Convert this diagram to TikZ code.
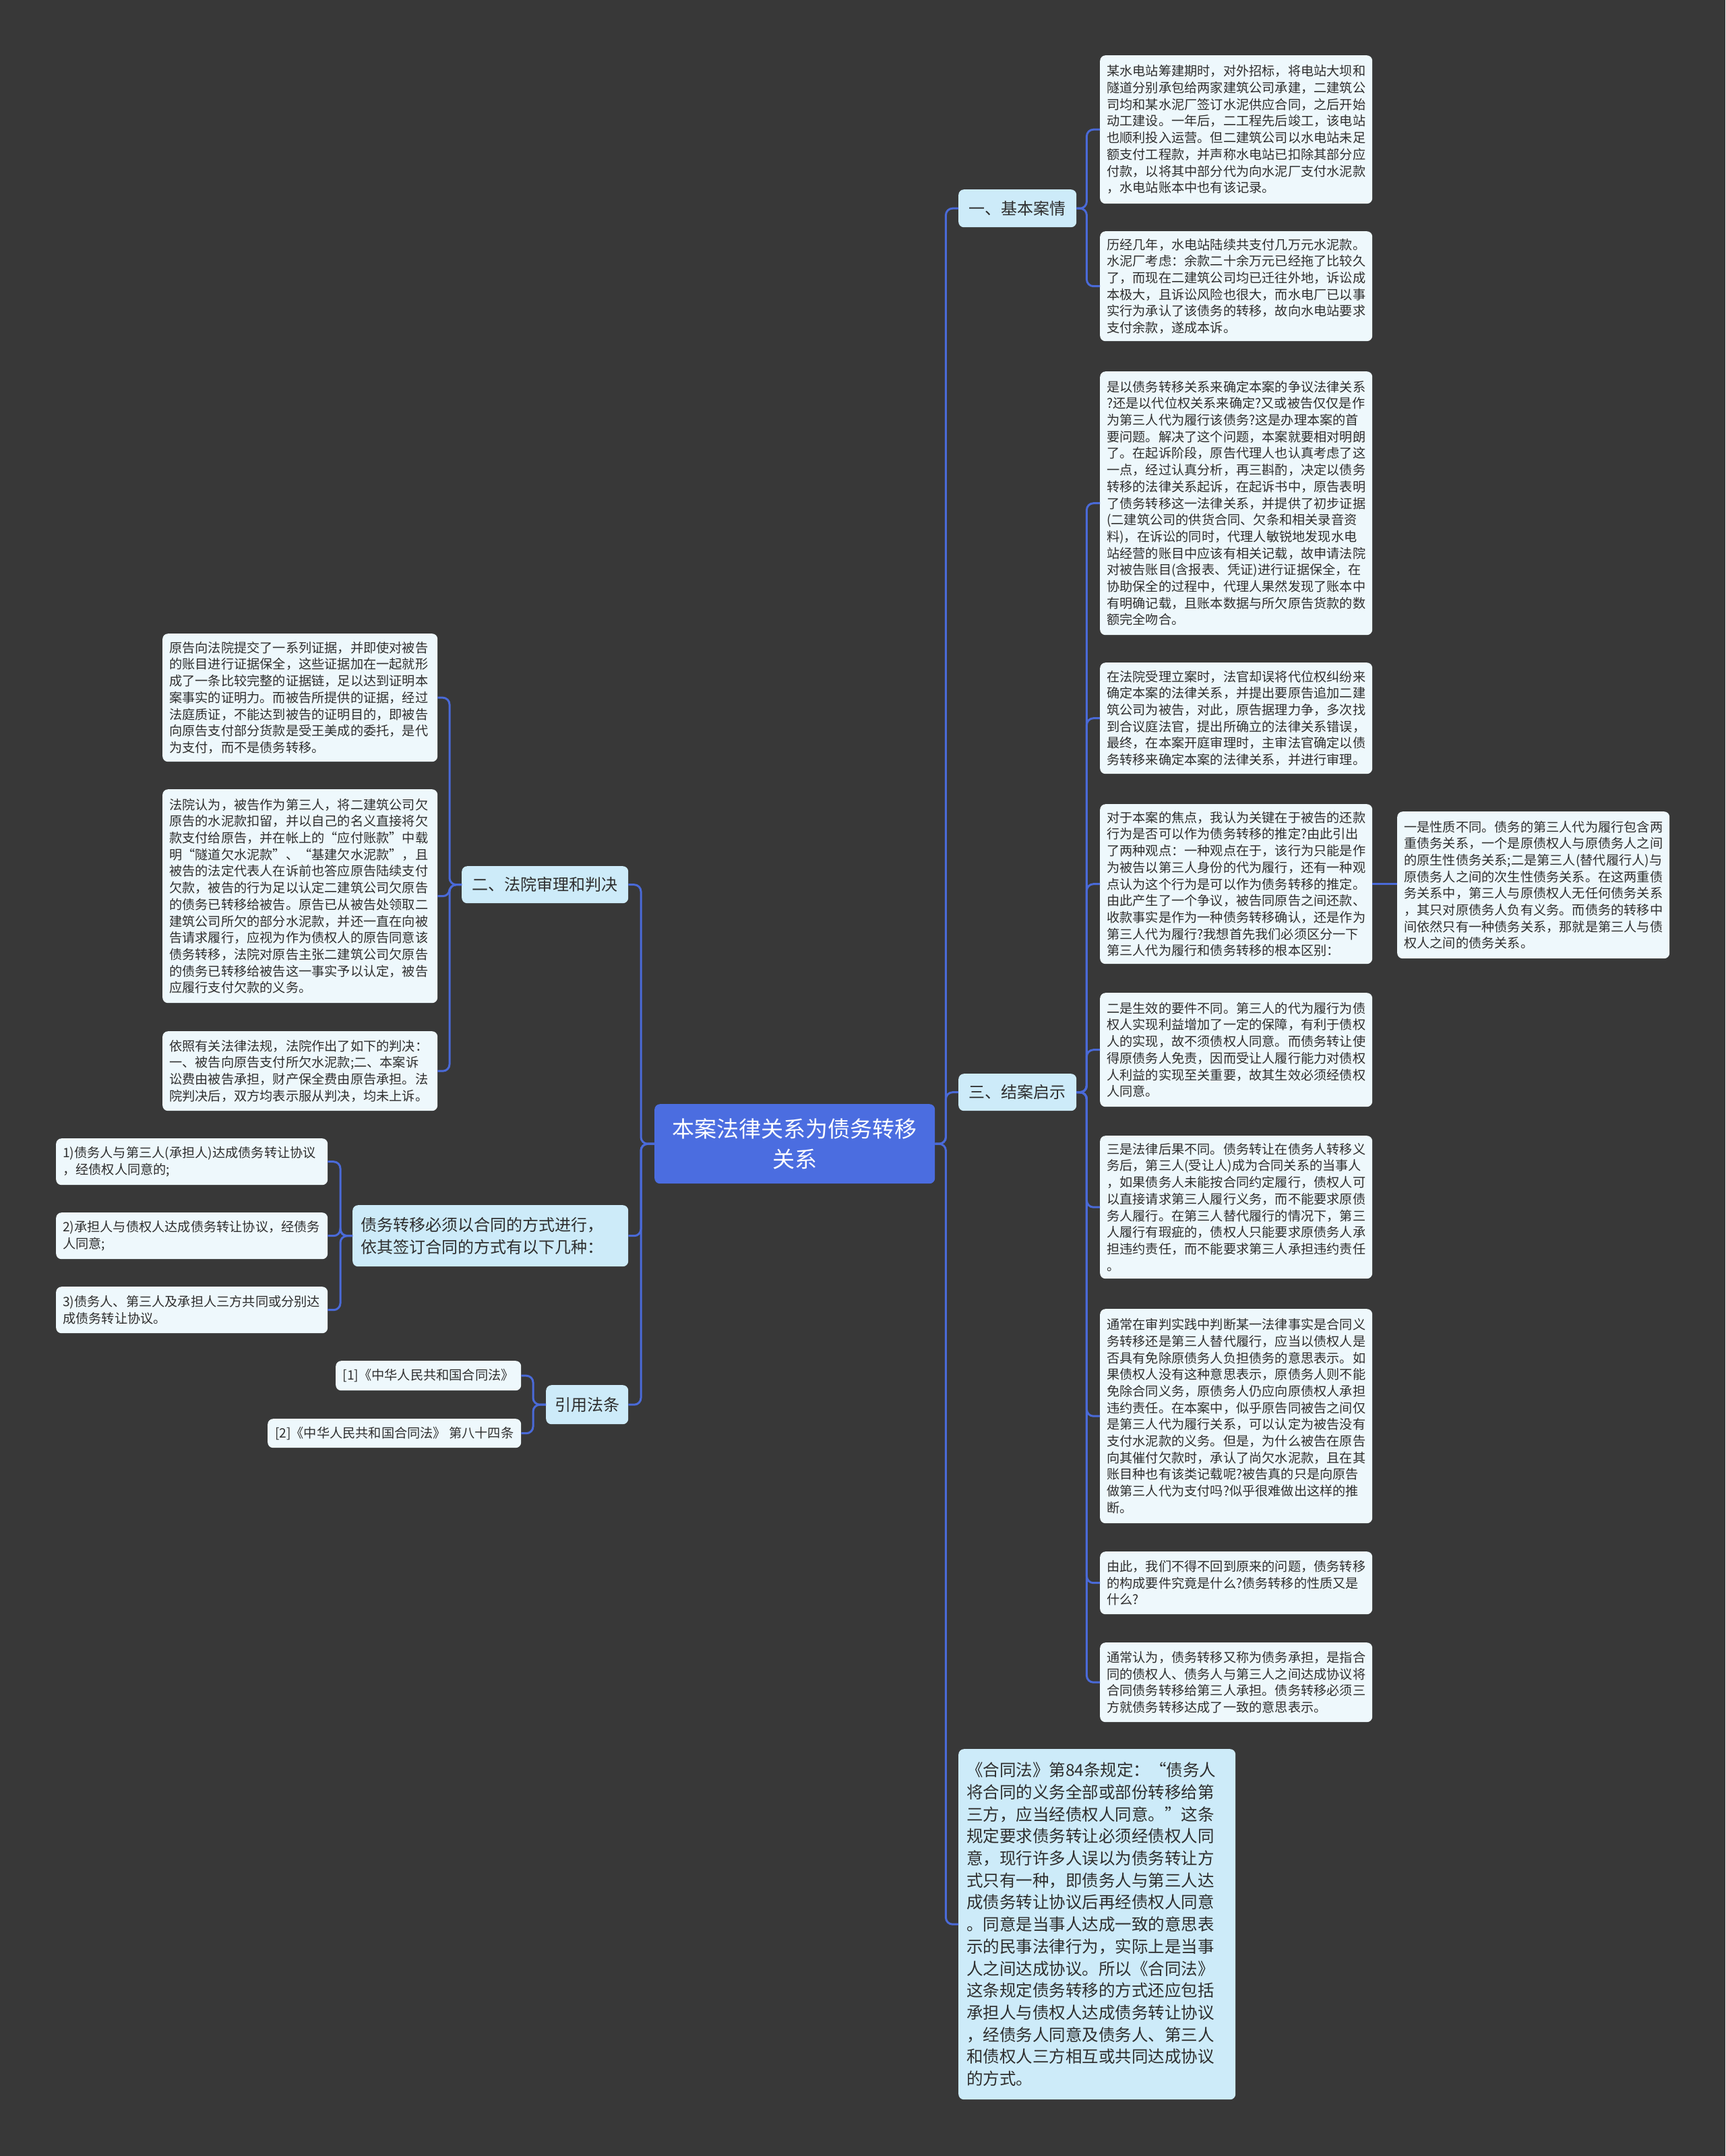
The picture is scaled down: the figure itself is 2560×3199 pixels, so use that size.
\documentclass[tikz,border=0pt]{standalone}
\usepackage{fontspec}
\newfontfamily\cjk{Noto Sans CJK SC}
\definecolor{bgc}{HTML}{383838}
\definecolor{centc}{HTML}{4B6DE0}
\definecolor{branchc}{HTML}{CDEBF9}
\definecolor{leafc}{HTML}{EEF8FC}
\definecolor{linec}{HTML}{4A6AD8}
\definecolor{textc}{HTML}{2E2E2E}
\begin{document}
\begin{tikzpicture}[x=1pt,y=-1pt,
  box/.style={rectangle, rounded corners=8pt, anchor=north west, inner xsep=10pt, inner ysep=0pt, align=left, text=textc},
  leaf/.style={box, fill=leafc, font=\cjk\fontsize{19.2}{24.7}\selectfont},
  branch/.style={box, fill=branchc, font=\cjk\fontsize{24}{33}\selectfont, align=center},
  centre/.style={box, fill=centc, text=white, font=\cjk\fontsize{33}{45}\selectfont, align=center},
  conn/.style={draw=linec, line width=3pt, rounded corners=10pt}]
\fill[bgc] (0,0) rectangle (2560,3199);
\useasboundingbox (0,0) rectangle (2560,3199);

% centre
\node[centre, minimum width=416pt, minimum height=118pt, text width=396pt] (c) at (971,1638) {本案法律关系为债务转移\\关系};

% branches
\node[branch, minimum width=175pt, minimum height=56pt] (b1) at (1422,281) {一、基本案情};
\node[branch, minimum width=175pt, minimum height=55pt] (b3) at (1422,1593) {三、结案启示};
\node[branch, minimum width=247pt, minimum height=55pt] (b2) at (685,1285) {二、法院审理和判决};
\node[branch, align=left, inner xsep=12pt, text width=385pt, minimum height=91pt] (b4) at (523,1788) {债务转移必须以合同的方式进行，\\依其签订合同的方式有以下几种：};
\node[branch, minimum width=122pt, minimum height=58pt] (b5) at (810,2055) {引用法条};
\node[branch, align=left, inner xsep=12pt, text width=387pt, minimum height=520pt, font=\cjk\fontsize{24.5}{32.7}\selectfont] (big) at (1422,2595) {《合同法》第84条规定：“债务人\\将合同的义务全部或部份转移给第\\三方，应当经债权人同意。”这条\\规定要求债务转让必须经债权人同\\意，现行许多人误以为债务转让方\\式只有一种，即债务人与第三人达\\成债务转让协议后再经债权人同意\\。同意是当事人达成一致的意思表\\示的民事法律行为，实际上是当事\\人之间达成协议。所以《合同法》\\这条规定债务转移的方式还应包括\\承担人与债权人达成债务转让协议\\，经债务人同意及债务人、第三人\\和债权人三方相互或共同达成协议\\的方式。};

% right leaves
\node[leaf, text width=384pt, minimum height=220pt] (r1) at (1632,82) {某水电站筹建期时，对外招标，将电站大坝和\\隧道分别承包给两家建筑公司承建，二建筑公\\司均和某水泥厂签订水泥供应合同，之后开始\\动工建设。一年后，二工程先后竣工，该电站\\也顺利投入运营。但二建筑公司以水电站未足\\额支付工程款，并声称水电站已扣除其部分应\\付款，以将其中部分代为向水泥厂支付水泥款\\，水电站账本中也有该记录。};
\node[leaf, text width=384pt, minimum height=163pt] (r2) at (1632,343) {历经几年，水电站陆续共支付几万元水泥款。\\水泥厂考虑：余款二十余万元已经拖了比较久\\了，而现在二建筑公司均已迁往外地，诉讼成\\本极大，且诉讼风险也很大，而水电厂已以事\\实行为承认了该债务的转移，故向水电站要求\\支付余款，遂成本诉。};
\node[leaf, text width=384pt, minimum height=391pt] (r3) at (1632,551) {是以债务转移关系来确定本案的争议法律关系\\?还是以代位权关系来确定?又或被告仅仅是作\\为第三人代为履行该债务?这是办理本案的首\\要问题。解决了这个问题，本案就要相对明朗\\了。在起诉阶段，原告代理人也认真考虑了这\\一点，经过认真分析，再三斟酌，决定以债务\\转移的法律关系起诉，在起诉书中，原告表明\\了债务转移这一法律关系，并提供了初步证据\\(二建筑公司的供货合同、欠条和相关录音资\\料)，在诉讼的同时，代理人敏锐地发现水电\\站经营的账目中应该有相关记载，故申请法院\\对被告账目(含报表、凭证)进行证据保全，在\\协助保全的过程中，代理人果然发现了账本中\\有明确记载，且账本数据与所欠原告货款的数\\额完全吻合。};
\node[leaf, text width=384pt, minimum height=165pt] (r4) at (1632,983) {在法院受理立案时，法官却误将代位权纠纷来\\确定本案的法律关系，并提出要原告追加二建\\筑公司为被告，对此，原告据理力争，多次找\\到合议庭法官，提出所确立的法律关系错误，\\最终，在本案开庭审理时，主审法官确定以债\\务转移来确定本案的法律关系，并进行审理。};
\node[leaf, text width=384pt, minimum height=237pt] (r5) at (1632,1193) {对于本案的焦点，我认为关键在于被告的还款\\行为是否可以作为债务转移的推定?由此引出\\了两种观点：一种观点在于，该行为只能是作\\为被告以第三人身份的代为履行，还有一种观\\点认为这个行为是可以作为债务转移的推定。\\由此产生了一个争议，被告同原告之间还款、\\收款事实是作为一种债务转移确认，还是作为\\第三人代为履行?我想首先我们必须区分一下\\第三人代为履行和债务转移的根本区别：};
\node[leaf, text width=384pt, minimum height=218pt] (r5a) at (2073,1204) {一是性质不同。债务的第三人代为履行包含两\\重债务关系，一个是原债权人与原债务人之间\\的原生性债务关系;二是第三人(替代履行人)与\\原债务人之间的次生性债务关系。在这两重债\\务关系中，第三人与原债权人无任何债务关系\\，其只对原债务人负有义务。而债务的转移中\\间依然只有一种债务关系，那就是第三人与债\\权人之间的债务关系。};
\node[leaf, text width=384pt, minimum height=169pt] (r6) at (1632,1473) {二是生效的要件不同。第三人的代为履行为债\\权人实现利益增加了一定的保障，有利于债权\\人的实现，故不须债权人同意。而债务转让使\\得原债务人免责，因而受让人履行能力对债权\\人利益的实现至关重要，故其生效必须经债权\\人同意。};
\node[leaf, text width=384pt, minimum height=212pt] (r7) at (1632,1685) {三是法律后果不同。债务转让在债务人转移义\\务后，第三人(受让人)成为合同关系的当事人\\，如果债务人未能按合同约定履行，债权人可\\以直接请求第三人履行义务，而不能要求原债\\务人履行。在第三人替代履行的情况下，第三\\人履行有瑕疵的，债权人只能要求原债务人承\\担违约责任，而不能要求第三人承担违约责任\\。};
\node[leaf, text width=384pt, minimum height=318pt] (r8) at (1632,1942) {通常在审判实践中判断某一法律事实是合同义\\务转移还是第三人替代履行，应当以债权人是\\否具有免除原债务人负担债务的意思表示。如\\果债权人没有这种意思表示，原债务人则不能\\免除合同义务，原债务人仍应向原债权人承担\\违约责任。在本案中，似乎原告同被告之间仅\\是第三人代为履行关系，可以认定为被告没有\\支付水泥款的义务。但是，为什么被告在原告\\向其催付欠款时，承认了尚欠水泥款，且在其\\账目种也有该类记载呢?被告真的只是向原告\\做第三人代为支付吗?似乎很难做出这样的推\\断。};
\node[leaf, text width=384pt, minimum height=93pt] (r9) at (1632,2302) {由此，我们不得不回到原来的问题，债务转移\\的构成要件究竟是什么?债务转移的性质又是\\什么?};
\node[leaf, text width=384pt, minimum height=118pt] (r10) at (1632,2437) {通常认为，债务转移又称为债务承担，是指合\\同的债权人、债务人与第三人之间达成协议将\\合同债务转移给第三人承担。债务转移必须三\\方就债务转移达成了一致的意思表示。};

% left leaves of 二
\node[leaf, text width=388pt, minimum height=190pt] (la) at (241,940) {原告向法院提交了一系列证据，并即使对被告\\的账目进行证据保全，这些证据加在一起就形\\成了一条比较完整的证据链，足以达到证明本\\案事实的证明力。而被告所提供的证据，经过\\法庭质证，不能达到被告的证明目的，即被告\\向原告支付部分货款是受王美成的委托，是代\\为支付，而不是债务转移。};
\node[leaf, text width=388pt, minimum height=317pt] (lb) at (241,1171) {法院认为，被告作为第三人，将二建筑公司欠\\原告的水泥款扣留，并以自己的名义直接将欠\\款支付给原告，并在帐上的“应付账款”中载\\明“隧道欠水泥款”、“基建欠水泥款”，且\\被告的法定代表人在诉前也答应原告陆续支付\\欠款，被告的行为足以认定二建筑公司欠原告\\的债务已转移给被告。原告已从被告处领取二\\建筑公司所欠的部分水泥款，并还一直在向被\\告请求履行，应视为作为债权人的原告同意该\\债务转移，法院对原告主张二建筑公司欠原告\\的债务已转移给被告这一事实予以认定，被告\\应履行支付欠款的义务。};
\node[leaf, text width=388pt, minimum height=118pt] (lc) at (241,1530) {依照有关法律法规，法院作出了如下的判决：\\一、被告向原告支付所欠水泥款;二、本案诉\\讼费由被告承担，财产保全费由原告承担。法\\院判决后，双方均表示服从判决，均未上诉。};

% leaves of 债务转移
\node[leaf, text width=383pt, minimum height=69pt] (d1) at (83,1689) {1)债务人与第三人(承担人)达成债务转让协议\\，经债权人同意的;};
\node[leaf, text width=383pt, minimum height=69pt] (d2) at (83,1799) {2)承担人与债权人达成债务转让协议，经债务\\人同意;};
\node[leaf, text width=383pt, minimum height=69pt] (d3) at (83,1909) {3)债务人、第三人及承担人三方共同或分别达\\成债务转让协议。};

% leaves of 引用法条
\node[leaf, align=center, minimum width=275pt, minimum height=44pt] (f1) at (498,2019) {\relax[1]《中华人民共和国合同法》};
\node[leaf, align=center, minimum width=376pt, minimum height=43pt] (f2) at (397,2105) {\relax[2]《中华人民共和国合同法》 第八十四条};

% connectors
\foreach \t in {b1,b3,big} \draw[conn] (c.east) -- ++(16,0) |- (\t.west);
\foreach \t in {b2,b4,b5} \draw[conn] (c.west) -- ++(-20,0) |- (\t.east);
\foreach \t in {r1,r2} \draw[conn] (b1.east) -- ++(15,0) |- (\t.west);
\foreach \t in {r3,r4,r5,r6,r7,r8,r9,r10} \draw[conn] (b3.east) -- ++(15,0) |- (\t.west);
\draw[conn] (r5.east) -- (r5.east -| r5a.west);
\foreach \t in {la,lb,lc} \draw[conn] (b2.west) -- ++(-18,0) |- (\t.east);
\foreach \t in {d1,d2,d3} \draw[conn] (b4.west) -- ++(-18,0) |- (\t.east);
\foreach \t in {f1,f2} \draw[conn] (b5.west) -- ++(-19,0) |- (\t.east);
\end{tikzpicture}
\end{document}
